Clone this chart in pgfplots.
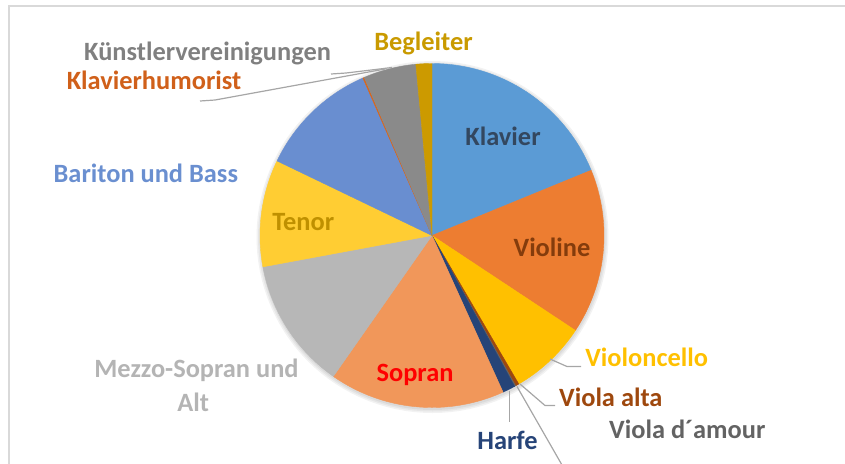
\documentclass[border=0pt]{standalone}
\usepackage{pgfplots}
\pgfplotsset{compat=1.18}
\usepackage{fontspec}
\setmainfont{Carlito}
% slice colours
\definecolor{sKlavier}{HTML}{5B9BD5}
\definecolor{sVioline}{HTML}{ED7D31}
\definecolor{sCello}{HTML}{FFC000}
\definecolor{sAlta}{HTML}{9E480E}
\definecolor{sAmour}{HTML}{636363}
\definecolor{sHarfe}{HTML}{264478}
\definecolor{sSopran}{HTML}{F1975A}
\definecolor{sMezzo}{HTML}{B7B7B7}
\definecolor{sTenor}{HTML}{FFCD33}
\definecolor{sBariton}{HTML}{698ED0}
\definecolor{sHumor}{HTML}{D8661C}
\definecolor{sKuenstler}{HTML}{8A8A8A}
\definecolor{sBegleiter}{HTML}{CC9A00}
% label colours
\definecolor{tKlavier}{HTML}{33475F}
\definecolor{tVioline}{HTML}{843C0C}
\definecolor{tCello}{HTML}{FFC000}
\definecolor{tAlta}{HTML}{9E480E}
\definecolor{tAmour}{HTML}{636363}
\definecolor{tHarfe}{HTML}{264478}
\definecolor{tSopran}{HTML}{FF0000}
\definecolor{tMezzo}{HTML}{B4B4B4}
\definecolor{tTenor}{HTML}{BF9000}
\definecolor{tBariton}{HTML}{6A8FD0}
\definecolor{tHumor}{HTML}{D0601A}
\definecolor{tKuenstler}{HTML}{808080}
\definecolor{tBegleiter}{HTML}{C99A00}
\definecolor{leader}{HTML}{A6A6A6}
\definecolor{frame}{HTML}{D9D9D9}

\newcommand\slicestart{0}
% #1 = slice value (degrees of the pie), #2 = colour
\newcommand{\slice}[2]{%
  \pgfmathsetmacro\sliceend{\slicestart+#1}%
  \edef\doslice{\noexpand\addplot[fill=#2, draw=#2, line width=0.2pt,
    domain=\slicestart:\sliceend, samples=40, variable=\noexpand\t]
    ({432+172*sin(\noexpand\t)},{235.5-172*cos(\noexpand\t)})
    -- (axis cs:432,235.5) -- cycle;}%
  \doslice
  \global\let\slicestart\sliceend
}
% soft shadow ring behind the pie
\newcommand{\shadowring}[1]{%
  \addplot[fill=black, draw=none, fill opacity=0.05, domain=0:360, samples=120, variable=\t]
    ({432.5+(172+#1)*sin(\t)},{237+(172+#1)*cos(\t)}) -- cycle;%
}

\begin{document}
\begin{tikzpicture}[lab/.style={anchor=base, font=\fontsize{13.2}{15.8}\selectfont\bfseries}]
\useasboundingbox (0,0) rectangle (422.5pt,231.5pt);
\begin{axis}[
  at={(0,0)}, anchor=south west,
  x=0.5pt, y=0.5pt,
  xmin=0, xmax=845, ymin=0, ymax=463,
  y dir=reverse,
  hide axis,
]
% frame of the chart area
\addplot[draw=frame, line width=0.8pt] coordinates {(9,470) (9,6) (850,6)};

\shadowring{4}
\shadowring{2.5}
\shadowring{1}

% pie slices, clockwise from 12 o'clock
\slice{67.7}{sKlavier}
\slice{55.8}{sVioline}
\slice{26.2}{sCello}
\slice{1.2}{sAlta}
\slice{0.4}{sAmour}
\slice{4.3}{sHarfe}
\slice{59.4}{sSopran}
\slice{44.5}{sMezzo}
\slice{36.2}{sTenor}
\slice{40.6}{sBariton}
\slice{0.5}{sHumor}
\slice{17.8}{sKuenstler}
\slice{5.4}{sBegleiter}

% leader lines
\addplot[draw=leader, line width=0.6pt] coordinates {(550,359) (567,366.5) (581,366.5)};
\addplot[draw=leader, line width=0.6pt] coordinates {(520,384) (545,405.5) (555,405.5)};
\addplot[draw=leader, line width=0.6pt] coordinates {(517,386.5) (566,472)};
\addplot[draw=leader, line width=0.6pt] coordinates {(509.3,391) (509.3,421.5)};
\addplot[draw=leader, line width=0.6pt] coordinates {(385,69) (215,100) (200,101)};
\addplot[draw=leader, line width=0.6pt] coordinates {(392,67.5) (346,73) (331,74)};

% labels
\node[lab, text=tKlavier] at (axis cs:503,145) {Klavier};
\node[lab, text=tVioline] at (axis cs:552,256) {Violine};
\node[lab, text=tCello] at (axis cs:646.7,366.7) {Violoncello};
\node[lab, text=tAlta] at (axis cs:610.8,406) {Viola alta};
\node[lab, text=tAmour] at (axis cs:687.3,438.3) {Viola d´amour};
\node[lab, text=tHarfe] at (axis cs:507.5,449.3) {Harfe};
\node[lab, text=tSopran] at (axis cs:415,381) {Sopran};
\node[lab, text=tMezzo] at (axis cs:196.5,377.7) {Mezzo-Sopran und};
\node[lab, text=tMezzo] at (axis cs:193.3,411.7) {Alt};
\node[lab, text=tTenor] at (axis cs:303.3,230) {Tenor};
\node[lab, text=tBariton] at (axis cs:145.8,182.7) {Bariton und Bass};
\node[lab, text=tHumor] at (axis cs:154,89.3) {Klavierhumorist};
\node[lab, text=tKuenstler] at (axis cs:207.5,60) {Künstlervereinigungen};
\node[lab, text=tBegleiter] at (axis cs:423.5,50) {Begleiter};
\end{axis}
\end{tikzpicture}
\end{document}
